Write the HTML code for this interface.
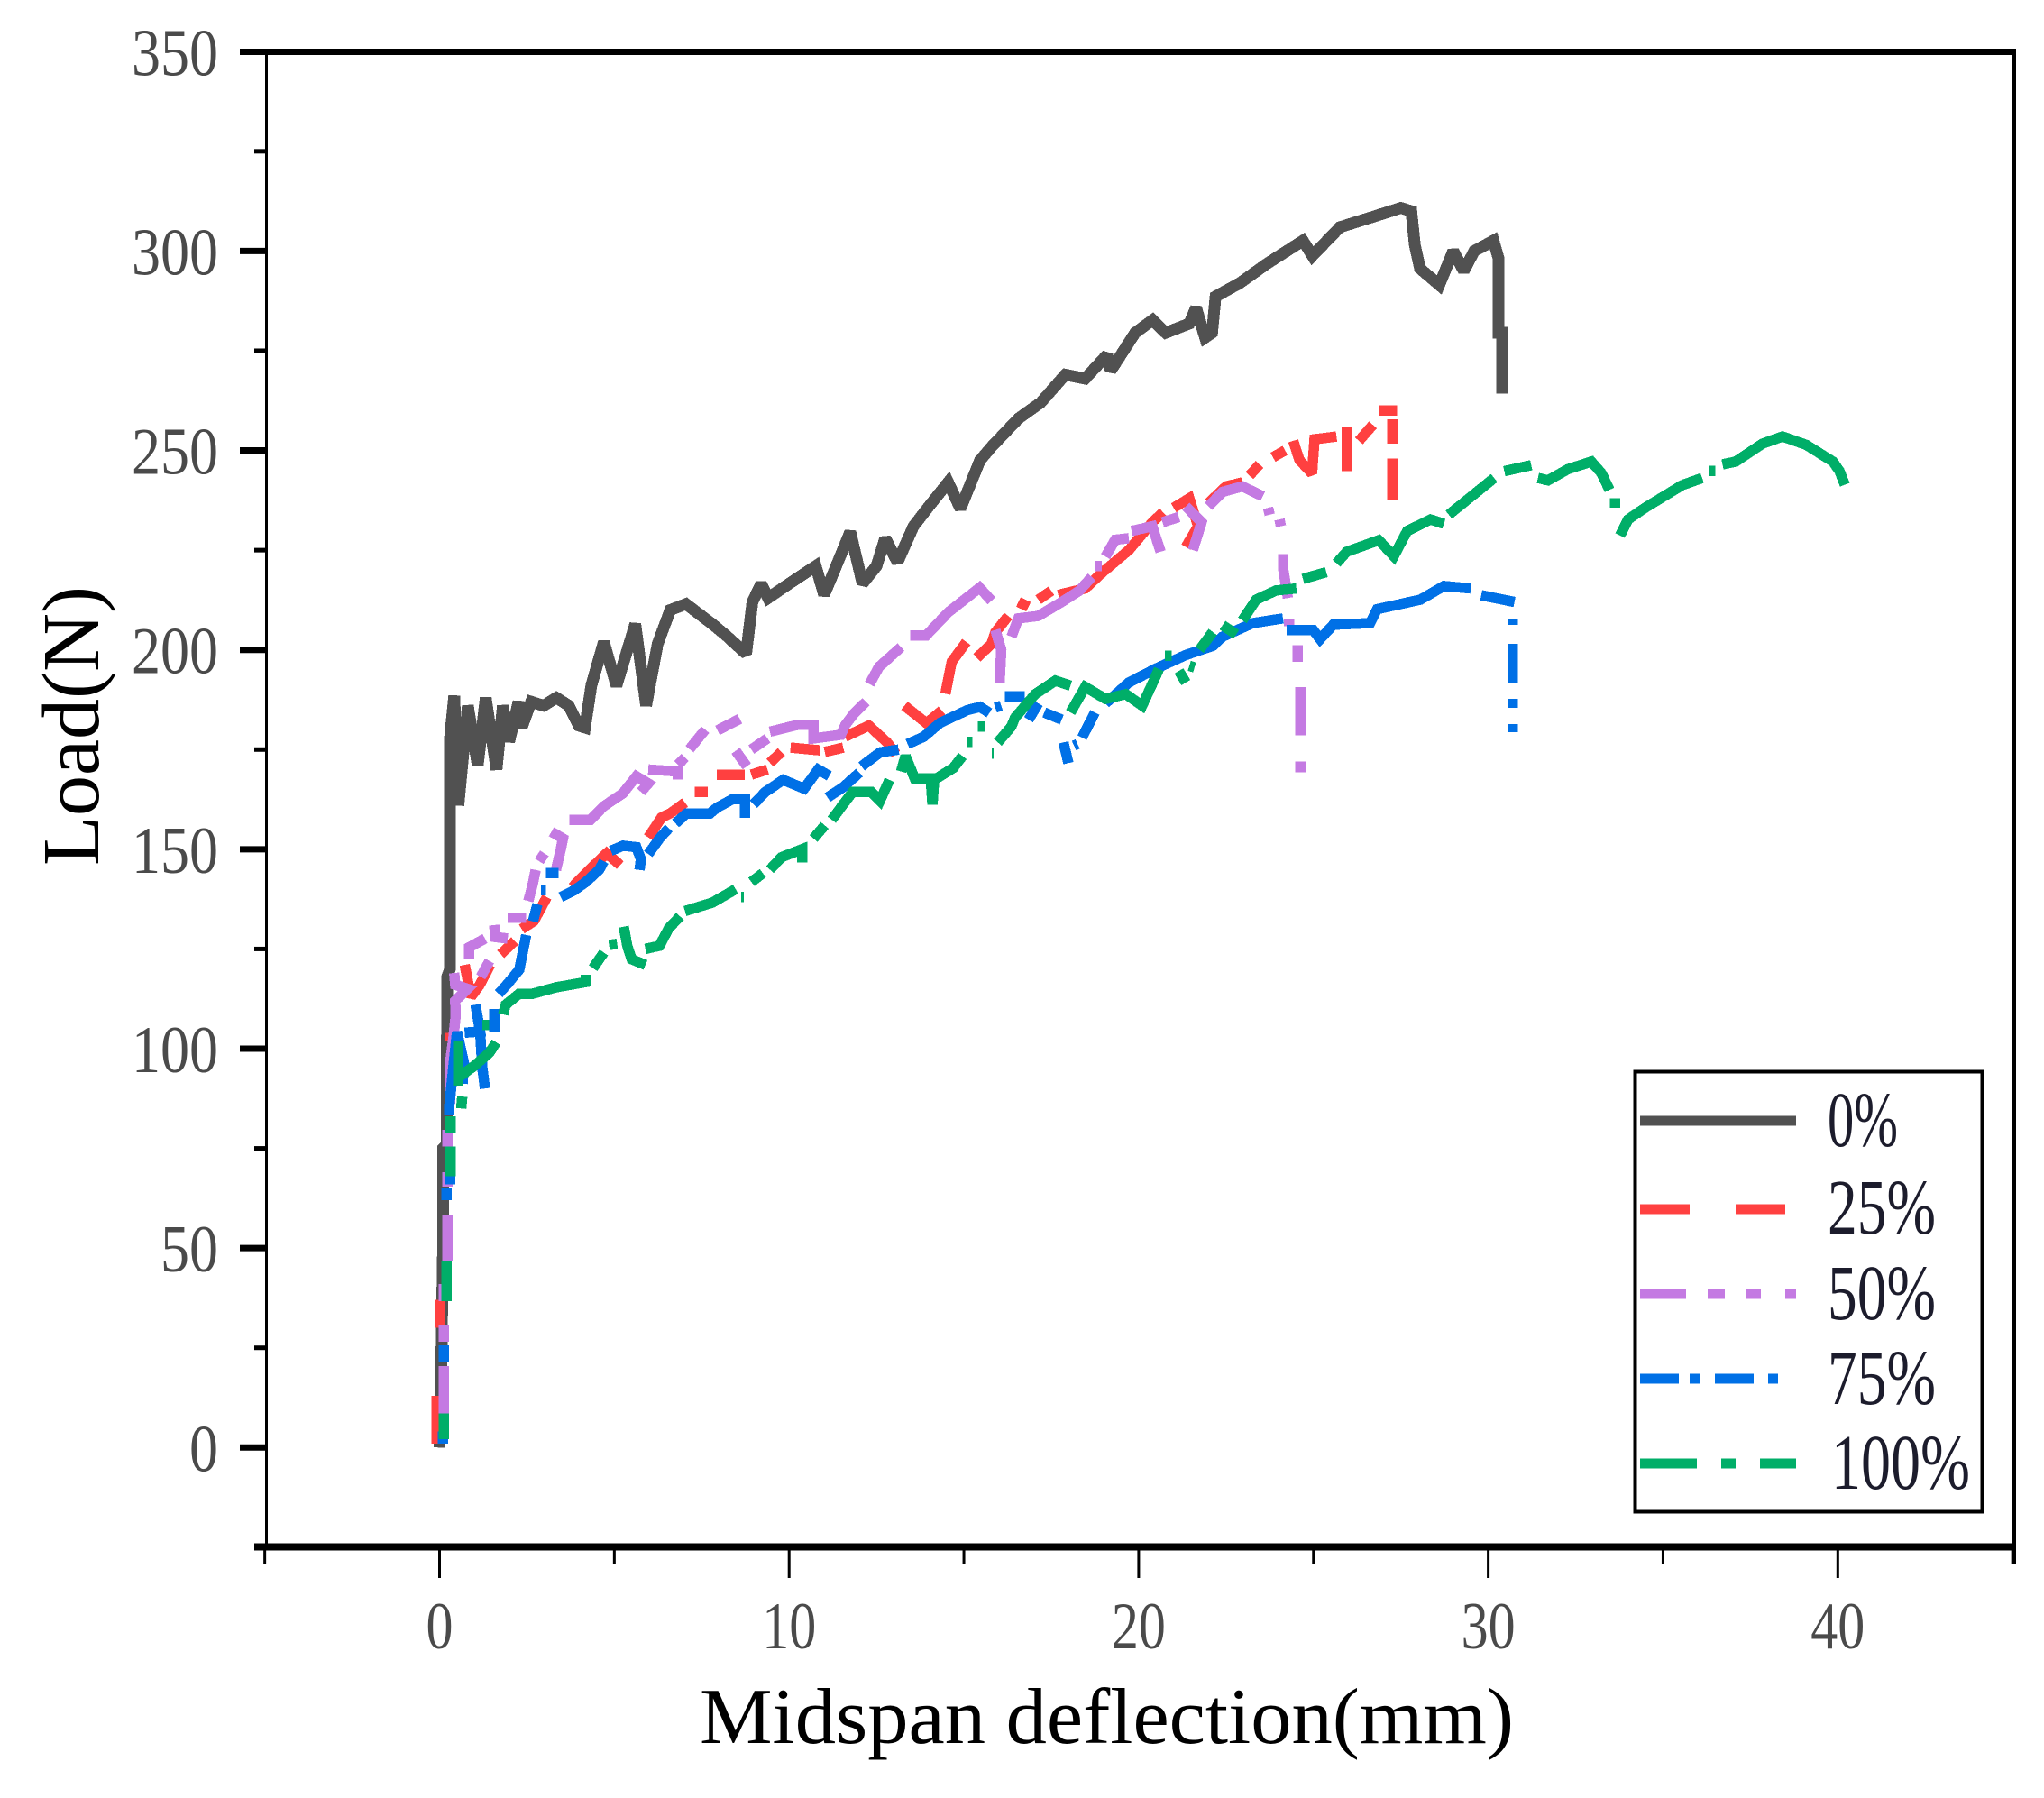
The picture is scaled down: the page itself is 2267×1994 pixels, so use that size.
<!DOCTYPE html>
<html lang="en">
<head>
<meta charset="utf-8">
<title>Load vs midspan deflection</title>
<style>
html,body{margin:0;padding:0;background:#fff;}
svg{display:block;}
text{font-family:"Liberation Serif",serif;}
</style>
</head>
<body>
<svg id="chart" xmlns="http://www.w3.org/2000/svg" width="2267" height="1994" viewBox="0 0 2267 1994">
  <rect x="0" y="0" width="2267" height="1994" fill="#ffffff"/>
  <g id="series-layer"></g>
  <g id="axis-layer"></g>
  <text x="776" y="1933" font-size="88" fill="#000" textLength="903" lengthAdjust="spacingAndGlyphs">Midspan deflection(mm)</text>
  <text transform="translate(109,960) rotate(-90)" font-size="90" fill="#000" textLength="310" lengthAdjust="spacingAndGlyphs">Load(N)</text>
  <g>
    <rect x="1813.5" y="1188.5" width="385" height="488" fill="#fff" stroke="#000" stroke-width="4"/>
    <g>
      <line x1="1819" x2="1992" y1="1243" y2="1243" stroke="#515151" stroke-width="11"/>
      <text x="2027" y="1271" font-size="87" fill="#1c1c2c" textLength="78" lengthAdjust="spacingAndGlyphs">0%</text>
    </g>
    <g>
      <line x1="1819" x2="1980" y1="1341" y2="1341" stroke="#ff4040" stroke-width="11" stroke-dasharray="55 51 55"/>
      <text x="2027" y="1368" font-size="87" fill="#1c1c2c" textLength="120" lengthAdjust="spacingAndGlyphs">25%</text>
    </g>
    <g>
      <line x1="1819" x2="1992" y1="1435" y2="1435" stroke="#c47ae2" stroke-width="11" stroke-dasharray="51 24 19 24 16 27 12"/>
      <text x="2027" y="1463" font-size="87" fill="#1c1c2c" textLength="120" lengthAdjust="spacingAndGlyphs">50%</text>
    </g>
    <g>
      <line x1="1819" x2="1972" y1="1529" y2="1529" stroke="#0070e6" stroke-width="11" stroke-dasharray="43 12 12 16 43 16 11"/>
      <text x="2027" y="1557" font-size="87" fill="#1c1c2c" textLength="120" lengthAdjust="spacingAndGlyphs">75%</text>
    </g>
    <g>
      <line x1="1819" x2="1992" y1="1623" y2="1623" stroke="#00ae68" stroke-width="11" stroke-dasharray="63 27 16 27 40"/>
      <text x="2031" y="1651" font-size="87" fill="#1c1c2c" textLength="154" lengthAdjust="spacingAndGlyphs">100%</text>
    </g>
  </g>
</svg>
<script>
const xMajorTicks = [0, 10, 20, 30, 40];
const xMinorTicks = [-5, 5, 15, 25, 35, 45];
const yMajorTicks = [0, 50, 100, 150, 200, 250, 300, 350];
const yMinorTicks = [25, 75, 125, 175, 225, 275, 325];

// Each series: [deflection mm, load N]; null marks a gap between drawn pieces of the line.
const series0 = [[0.0,0],[0.05,20],[0.1,50],[0.1,75],[0.2,76],[0.22,118],[0.3,120],[0.3,178],[0.42,188.5],[0.54,161],[0.81,186],[1.09,171],[1.32,188],[1.63,170],[1.81,186],[1.99,177],[2.26,187],[2.35,180.5],[2.62,187],[2.98,186],[3.34,188],[3.7,186],[3.98,181],[4.16,180.5],[4.34,191],[4.7,202],[5.06,191],[5.6,206.5],[5.91,186],[6.24,201.5],[6.6,210],[7.05,211.5],[7.8,206.5],[8.2,203.6],[8.77,199],[8.95,212],[9.2,216.6],[9.4,213],[10,216.6],[10.76,221],[11,213.8],[11.3,220],[11.75,229.6],[12.1,216.6],[12.5,221],[12.75,228],[13.1,222],[13.56,231],[14,236],[14.55,242],[14.9,235.4],[15.46,247.5],[15.8,251],[16.56,258],[17.2,262],[17.9,269],[18.47,268],[19.1,274],[19.2,270],[19.9,279.5],[20.4,282.7],[20.77,279.5],[21.45,281.8],[21.64,285.8],[21.9,278.3],[22.1,279.5],[22.2,288.6],[22.9,292],[23.65,296.7],[24.7,302.6],[24.97,298.8],[25.76,306],[26.6,308.3],[27.5,310.8],[27.8,310],[27.9,301.5],[28.05,295.6],[28.6,291.5],[29,300],[29.3,295],[29.6,300],[30.15,302.6],[30.3,298],[30.3,279.5],[30.4,279.5],[30.4,264.3]];

const series25 = [[-0.08,1],[-0.08,13],null,[0.0,30],[0.0,37],null,[0.3,102],[0.3,104],null,[0.72,121],[0.9,113],[1.15,116],[1.45,121],null,[1.75,123.7],[2.15,127],null,[2.35,130],[2.7,132],[3.07,138],null,[3.8,140.5],[4.19,144],[4.52,146.8],[4.78,149],[5.17,146],null,[5.63,151.7],null,[5.97,153],[6.35,158],[6.6,159],[7.02,161.7],null,[7.3,164.4],[7.67,164.4],null,[7.93,168.7],[8.2,168.7],[8.73,168.7],null,[8.92,168.7],[9.38,170],null,[9.45,171.7],[9.78,174.4],null,[10.04,175.5],[10.89,174.8],null,[11.02,174.4],[11.55,175.5],null,[11.6,178.2],[12.28,181],[12.8,176.8],[13.06,173.9],null,[13.3,186],[13.93,181.6],[14.37,184.8],null,[14.47,189],[14.65,197],[15.07,202],null,[15.37,198],[15.79,201.5],[15.9,204.4],[16.27,208.5],null,[16.56,212],[16.85,210.8],null,[17.13,212.6],[17.5,214.8],null,[17.7,213.8],[18.47,215.4],[18.96,219.4],[19.72,225],[20.39,232],[20.7,234.5],null,[21,235.6],[21.45,238],[21.7,231],[21.35,225.8],null,[22,236.8],[22.5,241],[22.97,242],null,[23.17,243.7],[23.46,246.5],null,[23.84,248.3],[24.19,250],null,[24.42,252.4],[24.6,247.6],[24.96,244.2],[25.03,252.8],[25.66,253.5],null,[25.95,255.8],[25.95,244.8],null,[26.3,252.4],[26.7,256.4],null,[26.87,260],[27.39,260],null,[27.26,257.8],[27.26,251.7],null,[27.26,248],[27.26,237.5]];

const series50 = [[0.12,8.2],[0.12,20.4],null,[0.12,26.5],[0.12,30.8],null,[0.12,36.7],[0.12,41],null,[0.22,46.9],[0.22,58.4],null,[0.22,65.4],[0.22,69],null,[0.22,75.5],[0.22,79.6],null,[0.3,86.2],[0.32,97.7],[0.4,103],[0.46,108],[0.45,112],[0.8,115],[0.45,116],[0.42,119],null,[1.18,118],[1.43,122],null,[0.84,122.4],[0.84,125.4],[1.3,127.6],null,[1.56,131],[1.6,128],[1.95,127.6],null,[1.95,132.8],[2.48,132.8],null,[2.54,137],[2.67,141.4],[2.75,144.8],null,[2.85,147],[3.0,149],null,[3.33,144.8],[3.47,150],[3.53,152.7],[3.2,154.4],null,[3.72,157.4],[4.32,157.4],[4.7,160.8],[5.24,164],[5.63,168.3],[5.97,166.5],[5.76,164.4],null,[5.97,170],[6.82,169.5],[6.82,167.5],null,[6.82,171.2],[7.02,173],null,[7.15,175.1],[7.6,180],null,[7.95,179.8],[8.59,182.7],null,[8.47,174.7],[8.79,170.8],null,[8.92,175],[9.38,177.8],null,[9.45,179.5],[10.24,181.2],[10.7,181.2],[10.7,177.8],[11.48,178.7],[11.61,181.2],[11.85,184],[12.2,187],null,[12.3,191.4],[12.57,195.7],[13.2,200.7],null,[13.47,203.6],[13.92,203.6],[14.55,209.4],[15.45,215.6],[15.79,212.3],null,[16.02,191.8],[16.07,200],[15.9,205],null,[16.36,203.3],[16.56,207.9],[17.13,208.5],[17.8,212],[18.3,214.8],[18.66,218.3],null,[18.75,221],[18.95,221],null,[19.05,223.4],[19.33,227.6],[19.72,228],null,[19.8,229.8],[20.39,231],[20.63,224.6],null,[20.68,232],[21.15,233.3],null,[21.35,236],[21.8,232],[21.55,225],null,[22,236],[22.4,239.6],[22.97,241],[23.55,238.5],null,[23.7,235.6],[23.75,233.9],null,[24.03,232.7],[24.07,231],null,[24.14,224],[24.14,220],[24.27,213],null,[24.3,207.8],[24.3,205.9],null,[24.55,201.2],[24.55,197],null,[24.63,190.7],[24.63,178.6],null,[24.63,172],[24.63,169.3]];

const series75 = [[0.1,1],[0.1,4],null,[0.12,21.5],[0.12,25.6],null,[0.2,62],[0.2,65],null,[0.3,66],[0.3,68],null,[0.27,83.3],[0.27,85],[0.5,104.2],[0.7,96.4],[0.66,91.2],null,[0.72,104],[1.16,104.3],[1.03,111],[1.16,104.3],[1.22,95.5],[1.3,90],null,[1.56,110],[1.56,104.3],null,[1.69,113.8],[1.95,116.3],[2.28,119.8],[2.48,128.5],null,[2.67,131.9],[2.8,136.2],null,[2.9,139.7],[3.05,139.7],null,[3.05,144],[3.4,144],null,[3.47,138],[3.85,139.7],[4.19,141.8],[4.57,144.9],[4.7,147],null,[4.9,149.6],[5.25,150.9],[5.63,150.5],[5.76,147.5],[5.72,144.8],null,[5.97,148.8],[6.29,152.7],[6.56,155.3],null,[6.75,156.5],[7.07,159],[7.74,159],[7.93,160.4],[8.39,162.6],[8.73,162.6],[8.73,157.9],null,[8.98,161.3],[9.32,164.4],[9.83,167.4],[10.43,165.2],[10.83,170],[11.15,168.4],null,[11.1,163],[11.55,165.6],[12.01,169.2],null,[12.07,170.8],[12.6,174.3],[13.13,175],null,[13.39,176.4],[13.85,178.2],[14.32,181.7],[15.1,184.9],[15.46,185.7],[15.73,184.2],null,[15.9,185.5],[16.07,186],null,[16.17,188.4],[16.74,188.4],null,[16.85,182.5],[17.13,186.6],null,[17.3,184.3],[17.8,182.5],null,[17.85,176.8],[17.99,171.6],null,[18.15,176],[18.25,176.4],null,[18.38,178],[18.75,184.3],null,[19.05,186.6],[19.72,191.8],[20.47,195.2],[21.35,198.7],[22.12,201],[22.4,203.3],[23.26,206.7],[24.13,207.9],null,[24.23,205],[24.99,205],[25.19,202.7],[25.57,206.3],[26.62,206.7],[26.82,210.2],[28.06,212.6],[28.73,216],[29.5,215.4],null,[29.8,213.7],[30.75,212],null,[30.7,207.9],[30.7,206.3],null,[30.7,201.5],[30.7,191.8],null,[30.7,187.7],[30.7,185.5],null,[30.7,181.4],[30.7,179.4]];

const series100 = [[0.12,2.1],[0.12,8.6],null,[0.2,36.7],[0.2,46.9],null,[0.31,68],[0.31,75.5],null,[0.31,78.7],[0.31,83],null,[0.53,90.7],[0.53,101.8],null,[0.62,85],[0.65,88],null,[0.57,93],[0.97,95.5],[1.43,99],[1.62,101.6],null,[1.22,106],[1.42,106],null,[1.82,108.6],[1.89,111],[2.28,113.8],[2.67,113.8],[3.34,115.4],[4.19,116.7],[4.19,118.5],null,[4.39,120.2],[4.7,124.1],null,[4.85,126],[5.08,126.3],null,[5.27,130.6],[5.37,125.8],[5.5,122.4],[5.89,121],null,[5.89,125],[6.29,125.8],[6.56,130.2],[6.88,133.2],null,[7.02,134.5],[7.8,136.6],[8.47,140],null,[8.63,138],[8.7,138],null,[8.92,141.8],[9.25,144],null,[9.45,144.9],[9.78,148],[10.37,150],[10.37,146.7],null,[10.7,152.7],[11.02,156],null,[11.22,157.4],[11.55,161.3],[11.82,164.4],[12.35,164.4],[12.6,162.2],[12.87,167.4],null,[13.2,169.5],[13.33,173.4],[13.59,167.8],[14.05,167.8],[14.1,161.2],[14.15,167.4],[14.7,170.4],[14.96,173.4],null,[15.1,176.9],[15.25,176.9],null,[15.4,180.8],[15.6,180.8],null,[15.8,174],[15.85,174],null,[15.97,176.8],[16.36,180.8],[16.46,183],[17.04,188.9],[17.62,192.3],[18.05,191],null,[18.05,184.3],[18.47,190.7],[19.05,187.7],[19.63,188.9],[20.1,186],[20.47,193],[20.58,195.2],null,[20.75,198.5],[20.95,198.5],null,[21.15,194.7],[21.35,191.8],null,[21.45,196],[21.6,195.6],null,[21.74,200],[22.12,204.5],null,[22.4,206.2],[22.79,203.9],null,[22.97,207.4],[23.36,212.6],[23.93,214.9],[24.51,215.4],null,[24.7,217.8],[25.37,219.5],null,[25.66,221.7],[25.95,224.6],[26.87,227.5],[27.3,223.5],[27.68,229.8],[28.35,232.7],[28.73,231.6],null,[28.87,233.9],[30.17,243.1],null,[30.46,244.8],[31.23,246.3],null,[31.42,243.1],[31.71,242.5],[32.28,245.3],[32.95,247.2],[33.24,244.3],[33.47,240.1],null,[33.63,238],[33.63,235.7],null,[33.77,228.7],[34,232.7],[34.5,235.7],[35.55,241.3],[36.12,243.1],null,[36.3,244.9],[36.5,244.9],null,[36.7,246.5],[37.08,247.2],[37.85,251.7],[38.42,253.5],[39.1,251.4],[39.86,247.2],[40.05,244.8],[40.2,241.4]];

const SVG_NS = 'http://www.w3.org/2000/svg';
const xScale = d => 487.5 + 38.77 * d;
const yScale = v => 1605.3 - 4.423 * v;
const seriesLayer = document.getElementById('series-layer');
const axisLayer = document.getElementById('axis-layer');

function make(tag, parent, attrs) {
  const el = document.createElementNS(SVG_NS, tag);
  Object.keys(attrs).forEach(k => el.setAttribute(k, attrs[k]));
  parent.appendChild(el);
  return el;
}

function linePath(points) {
  let d = '';
  let pen = false;
  points.forEach(p => {
    if (p === null) { pen = false; return; }
    d += (pen ? 'L' : 'M') + xScale(p[0]).toFixed(1) + ' ' + yScale(p[1]).toFixed(1);
    pen = true;
  });
  return d;
}

function drawSeries(points, color, width, name) {
  const el = make('path', seriesLayer, {
    d: linePath(points), fill: 'none', stroke: color, 'stroke-width': width,
    'stroke-linejoin': 'miter', 'stroke-miterlimit': 2, 'stroke-linecap': 'butt',
    'shape-rendering': 'crispEdges'
  });
  
  
}
drawSeries(series0, '#515151', 13, 'series-0-percent');
drawSeries(series25, '#ff4040', 11.5, 'series-25-percent');
drawSeries(series50, '#c47ae2', 11.5, 'series-50-percent');
drawSeries(series75, '#0070e6', 11.5, 'series-75-percent');
drawSeries(series100, '#00ae68', 11.5, 'series-100-percent');

// Spines
const spineLeft = make('line', axisLayer, {x1: 295.5, x2: 295.5, y1: 54, y2: 1716, stroke: '#000', 'stroke-width': 3});


const spineTop = make('line', axisLayer, {x1: 266, x2: 2236, y1: 57.5, y2: 57.5, stroke: '#000', 'stroke-width': 7});


const spineRight = make('line', axisLayer, {x1: 2234, x2: 2234, y1: 54, y2: 1734, stroke: '#000', 'stroke-width': 4});


const spineBottom = make('line', axisLayer, {x1: 282, x2: 2236, y1: 1715.5, y2: 1715.5, stroke: '#000', 'stroke-width': 8});



yMajorTicks.forEach(v => {
  const y = yScale(v);
  if (v !== 350) {
    const tick = make('line', axisLayer, {x1: 266, x2: 295, y1: y, y2: y, stroke: '#000', 'stroke-width': 7});
    
    
  }
  const label = make('text', axisLayer, {
    x: 242, y: y + 26, 'text-anchor': 'end', 'font-size': 74, fill: '#4a4a4a',
    textLength: 32 * String(v).length, lengthAdjust: 'spacingAndGlyphs'
  });
  label.textContent = String(v);
  
  
});

yMinorTicks.forEach(v => {
  const y = yScale(v);
  const tick = make('line', axisLayer, {x1: 282, x2: 295, y1: y, y2: y, stroke: '#000', 'stroke-width': 5});
  
  
});

xMajorTicks.forEach(d => {
  const x = xScale(d);
  const tick = make('line', axisLayer, {x1: x, x2: x, y1: 1716, y2: 1750, stroke: '#000', 'stroke-width': 3});
  
  
  const label = make('text', axisLayer, {
    x: x, y: 1828, 'text-anchor': 'middle', 'font-size': 74, fill: '#4a4a4a',
    textLength: (d === 0 ? 30 : 60), lengthAdjust: 'spacingAndGlyphs'
  });
  label.textContent = String(d);
  
  
});

xMinorTicks.forEach(d => {
  const x = xScale(d);
  const tick = make('line', axisLayer, {x1: x, x2: x, y1: 1716, y2: 1734, stroke: '#000', 'stroke-width': 3});
  
  
});
</script>
</body>
</html>
